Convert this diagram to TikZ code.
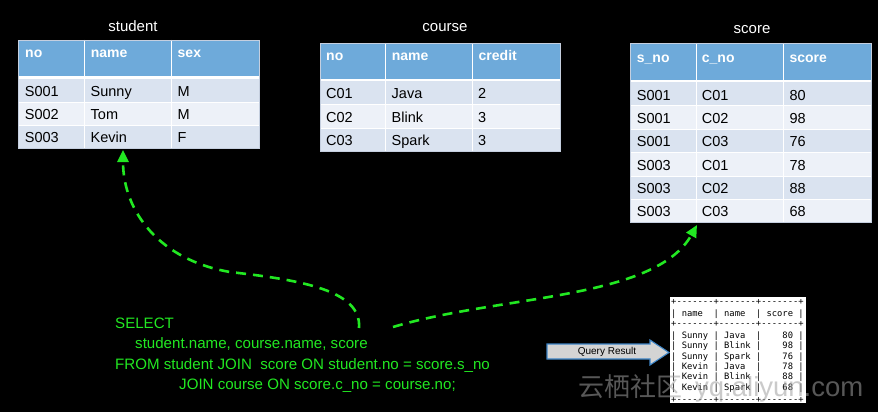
\documentclass[tikz,border=0pt]{standalone}
\usepackage{fontspec}
\setmainfont{Liberation Sans}
\newfontfamily\monof{DejaVu Sans Mono}
\newfontfamily\cjk{Noto Sans CJK SC}
\usetikzlibrary{arrows.meta}
\definecolor{hdr}{HTML}{6EAADA}
\definecolor{rowA}{HTML}{DAE3F0}
\definecolor{rowB}{HTML}{EDF1F8}
\definecolor{gridc}{HTML}{C5CFDF}
\definecolor{sqlgreen}{RGB}{34,232,34}
\definecolor{qfill}{HTML}{D4D4D4}
\definecolor{qline}{HTML}{3C84C6}
\definecolor{wm}{RGB}{160,160,160}
\newcommand\dsh{\mbox{-}}
\newcommand\sevd{\dsh\dsh\dsh\dsh\dsh\dsh\dsh}
\newcommand\brd{+\sevd+\sevd+\sevd+}
\begin{document}
\begin{tikzpicture}[x=1pt,y=-1pt,
  hdrtxt/.style={anchor=base west, inner sep=0, text=white, font=\bfseries\fontsize{14}{16}\selectfont},
  celltxt/.style={anchor=base west, inner sep=0, text=black, font=\fontsize{14.5}{16}\selectfont},
  ttl/.style={anchor=base, inner sep=0, text=white, font=\fontsize{15}{17}\selectfont},
  sqltxt/.style={anchor=base west, inner sep=0, text=sqlgreen, font=\fontsize{15.1}{17}\selectfont},
  flow/.style={draw=sqlgreen, line width=2.6pt, dash pattern=on 10pt off 7pt, -{Triangle[length=12pt,width=11pt,fill=sqlgreen]}},
  mono/.style={anchor=base west, inner sep=0, text=black, font=\monof\fontsize{8.8}{10}\selectfont},
  gridw/.style={white, line width=0.8pt},
  frame/.style={gridc, line width=0.8pt}]
\fill[black] (0,0) rectangle (878,412);
\useasboundingbox (0,0) rectangle (878,412);

% ---------------- student ----------------
\node[ttl] (st-title) at (133,32) {student};
\fill[hdr] (18,40) rectangle (259,76);
\fill[white] (18,76) rectangle (259,78.7);
\foreach \i/\c in {0/rowA,1/rowB,2/rowA}{\fill[\c] (18,{78.7+23.2*\i}) rectangle (259,{78.7+23.2*(\i+1)});}
\foreach \yy in {101.9,125.1}{\draw[gridw] (18,\yy) -- (259,\yy);}
\foreach \xx in {84,171.5}{\draw[gridw] (\xx,40) -- (\xx,148.3);}
\draw[frame] (18,40) rectangle (259,148.3);
\node[hdrtxt] (st-h1) at (25,57.5) {no};
\node[hdrtxt] (st-h2) at (90.7,57.5) {name};
\node[hdrtxt] (st-h3) at (177.5,57.5) {sex};
\foreach \a/\b/\c [count=\k] in {S001/Sunny/M,S002/Tom/M,S003/Kevin/F}{
  \node[celltxt] (st-\k-1) at (24.7,{96+23.3*(\k-1)}) {\a};
  \node[celltxt] (st-\k-2) at (90.5,{96+23.3*(\k-1)}) {\b};
  \node[celltxt] (st-\k-3) at (177.5,{96+23.3*(\k-1)}) {\c};
}
\coordinate (stud-bot) at (123,150);

% ---------------- course ----------------
\node[ttl] (co-title) at (445,32) {course};
\fill[hdr] (320,43) rectangle (560,79.3);
\fill[white] (320,79.3) rectangle (560,81);
\foreach \i/\c in {0/rowA,1/rowB,2/rowA}{\fill[\c] (320,{81+23.5*\i}) rectangle (560,{81+23.5*(\i+1)});}
\foreach \yy in {104.5,128}{\draw[gridw] (320,\yy) -- (560,\yy);}
\foreach \xx in {385.3,472.3}{\draw[gridw] (\xx,43) -- (\xx,151.5);}
\draw[frame] (320,43) rectangle (560,151.5);
\node[hdrtxt] (co-h1) at (326,61) {no};
\node[hdrtxt] (co-h2) at (391.7,61) {name};
\node[hdrtxt] (co-h3) at (478.5,61) {credit};
\foreach \a/\b/\c [count=\k] in {C01/Java/2,C02/Blink/3,C03/Spark/3}{
  \node[celltxt] (co-\k-1) at (326,{99+23.4*(\k-1)}) {\a};
  \node[celltxt] (co-\k-2) at (391.5,{99+23.4*(\k-1)}) {\b};
  \node[celltxt] (co-\k-3) at (478,{99+23.4*(\k-1)}) {\c};
}

% ---------------- score ----------------
\node[ttl] (sc-title) at (752,34) {score};
\fill[hdr] (630,43) rectangle (871,80.3);
\fill[white] (630,80.3) rectangle (871,82.3);
\foreach \i/\c in {0/rowA,1/rowB,2/rowA,3/rowB,4/rowA,5/rowB}{\fill[\c] (630,{82.3+23.4*\i}) rectangle (871,{82.3+23.4*(\i+1)});}
\foreach \i in {1,...,5}{\draw[gridw] (630,{82.3+23.4*\i}) -- (871,{82.3+23.4*\i});}
\foreach \xx in {696,783.3}{\draw[gridw] (\xx,43) -- (\xx,222.7);}
\draw[frame] (630,43) rectangle (871,222.7);
\node[hdrtxt] (sc-h1) at (636.7,62.3) {s\_no};
\node[hdrtxt] (sc-h2) at (701.7,62.3) {c\_no};
\node[hdrtxt] (sc-h3) at (789.3,62.3) {score};
\foreach \a/\b/\c [count=\k] in {S001/C01/80,S001/C02/98,S001/C03/76,S003/C01/78,S003/C02/88,S003/C03/68}{
  \node[celltxt] (sc-\k-1) at (636.7,{100+23.35*(\k-1)}) {\a};
  \node[celltxt] (sc-\k-2) at (701.7,{100+23.35*(\k-1)}) {\b};
  \node[celltxt] (sc-\k-3) at (789.3,{100+23.35*(\k-1)}) {\c};
}
\coordinate (score-bot) at (697,225);

% ---------------- SQL ----------------
\node[sqltxt] (sql1) at (115,328) {SELECT};
\node[sqltxt] (sql2) at (135,348.5) {student.name, course.name, score};
\node[sqltxt] (sql3) at (115,369) {FROM student JOIN \ score ON student.no = score.s\_no};
\node[sqltxt] (sql4) at (179,389.5) {JOIN course ON score.c\_no = course.no;};
\coordinate (sqlA) at (359,328);
\coordinate (sqlB) at (393,327);

\draw[flow] (sqlA) .. controls (362,290) and (300,280) .. (230,272)
            .. controls (160,260) and (123,212) .. (stud-bot);
\draw[flow] (sqlB) .. controls (500,295) and (655,300) .. (score-bot);

% ---------------- query result ----------------
\draw[qline, fill=qfill, line width=1.1pt] (547,344) -- (650,344) -- (650,340) -- (669,352.5)
   -- (650,365) -- (650,359) -- (547,359) -- cycle;
\node[inner sep=0, font=\fontsize{10}{12}\selectfont, text=black] (qr) at (607,351.5) {Query Result};

\fill[white] (670,297) rectangle (806,403);
\foreach \l/\yy [count=\k] in {\brd/304,|~name~~|~name~~|~score~|/316.7,\brd/326.7,
   |~Sunny~|~Java~~|~~~~80~|/338.4,|~Sunny~|~Blink~|~~~~98~|/348.6,|~Sunny~|~Spark~|~~~~76~|/359,
   |~Kevin~|~Java~~|~~~~78~|/369.2,|~Kevin~|~Blink~|~~~~88~|/379.7,|~Kevin~|~Spark~|~~~~68~|/390.2,\brd/402.5}{
  \node[mono] (res-\k) at (671,\yy) {\l};
}

% ---------------- watermark ----------------
\node[anchor=base west, inner sep=0, text=wm, text opacity=0.55, font=\cjk\fontsize{26}{28}\selectfont] (wm1) at (578,396) {云栖社区};
\node[anchor=base west, inner sep=0, text=wm, text opacity=0.55, font=\fontsize{27.5}{30}\selectfont] (wm2) at (695,396) {yq.aliyun.com};
\end{tikzpicture}
\end{document}
